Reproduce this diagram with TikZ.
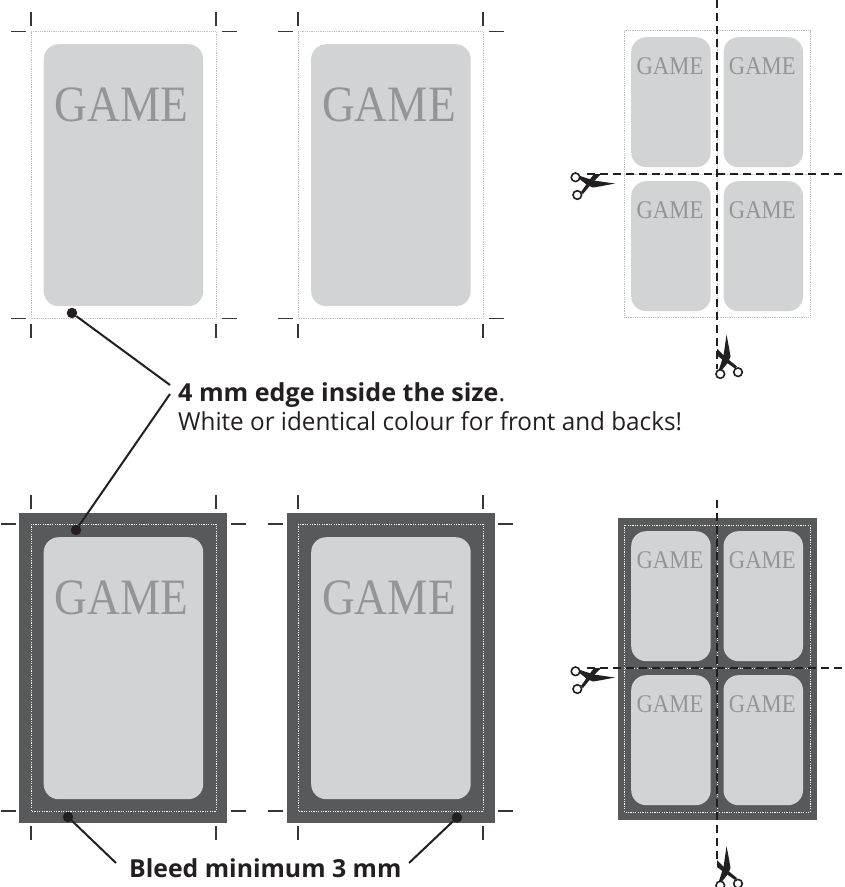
\documentclass[tikz,border=0pt]{standalone}
\usepackage{fontspec}
\setmainfont{Open Sans}
\newfontfamily\gamefont{Liberation Serif}
\usetikzlibrary{arrows.meta, positioning, calc}
\definecolor{cink}{HTML}{231F20}
\definecolor{ccard}{HTML}{D1D3D4}
\definecolor{cgame}{HTML}{939598}
\definecolor{cdark}{HTML}{58595B}
\definecolor{cdot}{HTML}{BCBEC0}
\tikzset{
  card/.style={fill=ccard, rounded corners=15pt, anchor=north west, inner sep=0pt, minimum width=159.5pt, minimum height=262pt},
  minicard/.style={fill=ccard, rounded corners=15pt, anchor=north west, inner sep=0pt, minimum width=79.5pt, minimum height=130pt},
  bleed/.style={fill=cdark, anchor=north west, inner sep=0pt},
  game/.style={text=cgame, anchor=base, inner sep=0pt, xscale=.89, font=\gamefont\fontsize{51}{51}\selectfont},
  minigame/.style={text=cgame, anchor=base, inner sep=0pt, xscale=.89, font=\gamefont\fontsize{25.5}{26}\selectfont},
  trim/.style={cdot, line width=.8pt, dash pattern=on .9pt off .9pt},
  trimw/.style={white, line width=.9pt, dash pattern=on 1.2pt off 1.2pt},
  tick/.style={cink!90, line width=1.2pt},
  cut/.style={cink, line width=2pt, dash pattern=on 8pt off 5pt},
  leader/.style={cink, line width=2pt},
  pin/.style={circle, fill=cink, inner sep=0pt, minimum size=10.5pt},
  note/.style={text=cink, anchor=base west, inner sep=0pt, font=\fontsize{24.8}{28}\selectfont},
  scissors/.pic={
    \fill[cink] (-7,2) -- (7,6.5) -- (17,8) -- (28,9.5) -- (15,12) -- (6,13.5) -- (0,11) -- (-8,4.5) -- cycle;
    \fill[cink] (-6,18) -- (1,8) -- (7,0) -- (14,0) -- (5,9) -- (-4,20) -- cycle;
    \draw[cink, line width=1.6pt] (-11.5,3.3) circle[radius=4.3];
    \draw[cink, line width=1.6pt] (-9.7,21) circle[radius=4.3];
  },
}
\begin{document}
\begin{tikzpicture}[x=1pt, y=-1pt]
  \useasboundingbox (0,0) rectangle (845,887);
  % bleed
  \node[bleed, minimum width=208pt, minimum height=310pt] (bleedA) at (19,513) {};
  \node[bleed, minimum width=208pt, minimum height=310pt] (bleedB) at (287,513) {};
  \node[bleed, minimum width=199pt, minimum height=302pt] (bleedC) at (618,518) {};
  % trim lines and crop marks
  \foreach \cx/\cy/\gap/\sty in {31/31.5/5.5/trim, 298/31.5/5.5/trim, 31/524/15/trimw, 298/524/15/trimw} {
    \draw[\sty] (\cx,\cy) rectangle ++(185,287);
    \foreach \ex in {0,185} {
      \draw[tick] (\cx+\ex,\cy-\gap) -- ++(0,-14);
      \draw[tick] (\cx+\ex,\cy+287+\gap) -- ++(0,14);
    }
    \foreach \ey in {0,287} {
      \draw[tick] (\cx-\gap,\cy+\ey) -- ++(-15,0);
      \draw[tick] (\cx+185+\gap,\cy+\ey) -- ++(15,0);
    }
  }
  % big cards
  \foreach \n/\cx/\cy in {a/43.5/44, b/311/44, c/43.5/537, d/311/537} {
    \node[card] (card\n) at (\cx,\cy) {};
    \node[game] (game\n) at ($(card\n.north west)+(78,77)$) {GAME};
  }
  % sheets
  \draw[trim] (624.5,30.5) rectangle (810,317);
  \draw[trimw] (624.5,525) rectangle (810,812);
  \draw[trim] (717,30.5) -- (717,317);
  \draw[trim] (624.5,174) -- (810,174);
  \draw[trimw] (717,525) -- (717,812);
  \draw[trimw] (624.5,668) -- (810,668);
  \foreach \n/\cx/\cy in {a/631/37, b/723.3/37, c/631/181, d/723.3/181, e/631/531, f/723.3/531, g/631/675, h/723.3/675} {
    \node[minicard] (mini\n) at (\cx,\cy) {};
    \node[minigame] (word\n) at ($(mini\n.north west)+(39,37.5)$) {GAME};
  }
  % cut lines
  \coordinate (hcutAl) at (587,174);
  \coordinate (hcutAr) at (845,174);
  \coordinate (vcutAt) at (717,0);
  \coordinate (vcutAb) at (717,369);
  \coordinate (hcutBl) at (587,668);
  \coordinate (hcutBr) at (845,668);
  \coordinate (vcutBt) at (717,500);
  \coordinate (vcutBb) at (717,864);
  \draw[cut] (hcutAl) -- (hcutAr);
  \draw[cut] (vcutAt) -- (vcutAb);
  \draw[cut] (hcutBl) -- (hcutBr);
  \draw[cut] (vcutBt) -- (vcutBb);
  \pic at (587,174) {scissors};
  \pic[rotate=90] at (717,362.5) {scissors};
  \pic at (587,668) {scissors};
  \pic[rotate=90] at (717,874) {scissors};
  % labels
  \node[note, xscale=1.012] (edge) at (178,401) {\textbf{4 mm edge inside the size}.};
  \node[note, xscale=.978] (colour) at (178,430) {White or identical colour for front and backs!};
  \node[note] (bleed) at (129,877) {\textbf{Bleed minimum 3 mm}};
  \node[pin] (pinA) at (72,313) {};
  \node[pin] (pinB) at (76,530) {};
  \node[pin] (pinC) at (68,817) {};
  \node[pin] (pinD) at (457,817.5) {};
  \coordinate (edgeup) at (170,385);
  \coordinate (edgedn) at (170,394);
  \coordinate (bleedl) at (116,863);
  \coordinate (bleedr) at (409,863);
  \draw[leader] (pinA) -- (edgeup);
  \draw[leader] (pinB) -- (edgedn);
  \draw[leader] (pinC) -- (bleedl);
  \draw[leader] (pinD) -- (bleedr);
\end{tikzpicture}
\end{document}
